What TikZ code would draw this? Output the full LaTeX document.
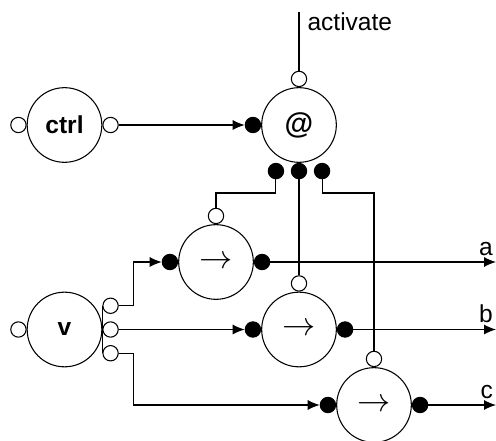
\documentclass[tikz,border=0pt]{standalone}
\usepackage{fontspec}
\setmainfont{Liberation Sans}
\usetikzlibrary{arrows.meta,positioning}

\begin{document}
\begin{tikzpicture}[x=0.75pt,y=-0.75pt,line width=0.8pt]
            \tikzstyle{every node}+=[inner sep=0pt]
            \tikzstyle{unit}=[draw,circle,minimum size=56pt,font=\fontsize{18.4}{22}\selectfont]
            \tikzstyle{oport}=[draw,circle,fill=white,minimum size=11.5pt]
            \tikzstyle{iport}=[draw,circle,fill=black,minimum size=11.5pt]
            \tikzstyle{lbl}=[font=\fontsize{18.4}{22}\selectfont]
            \tikzstyle{tip}=[-{Latex[length=9pt,width=7.5pt]}]
            \useasboundingbox (0,0) rectangle (496,441);
            \node [unit,font=\fontsize{18.4}{22}\selectfont\bfseries] (ctrl) at (64.5,125) {ctrl};
            \node [unit,font=\fontsize{22}{24}\selectfont\bfseries] (app) at (299,125) {@};
            \node [unit,font=\fontsize{24}{26}\selectfont] (fa) at (216,262) {$\rightarrow$};
            \node [unit,font=\fontsize{24}{26}\selectfont] (fb) at (299,329.5) {$\rightarrow$};
            \node [unit,font=\fontsize{24}{26}\selectfont] (fc) at (374,405) {$\rightarrow$};
            \node [unit,font=\fontsize{18.4}{22}\selectfont\bfseries] (v) at (64.5,329.5) {v};
            \node [oport,anchor=east] (ctrlin) at (ctrl.west) {};
            \node [oport,anchor=west] (ctrlout) at (ctrl.east) {};
            \node [iport,anchor=east] (appfun) at (app.west) {};
            \node [oport,anchor=south] (appact) at (app.north) {};
            \node [iport,anchor=north] (appb) at (app.south) {};
            \node [iport,left=5pt of appb] (appa) {};
            \node [iport,right=5pt of appb] (appc) {};
            \node [oport,anchor=east] (vin) at (v.west) {};
            \node [oport,anchor=west] (vb) at (v.east) {};
            \node [oport,above=5.5pt of vb] (va) {};
            \node [oport,below=5.5pt of vb] (vc) {};
            \node [iport,anchor=east] (fain) at (fa.west) {};
            \node [iport,anchor=west] (faout) at (fa.east) {};
            \node [oport,anchor=south] (faact) at (fa.north) {};
            \node [iport,anchor=east] (fbin) at (fb.west) {};
            \node [iport,anchor=west] (fbout) at (fb.east) {};
            \node [oport,anchor=south] (fbact) at (fb.north) {};
            \node [iport,anchor=east] (fcin) at (fc.west) {};
            \node [iport,anchor=west] (fcout) at (fc.east) {};
            \node [oport,anchor=south] (fcact) at (fc.north) {};
            \coordinate (act) at (299,12);
            \coordinate (outa) at (496,262);
            \coordinate (outb) at (496,329.5);
            \coordinate (outc) at (496,405);
            \draw (appact.north) -- (act);
            \node [lbl,anchor=north west] at ([xshift=6pt]act) {activate};
            \draw [tip] (ctrlout.east) -- (appfun.west);
            \draw (appa.south) -- (appa |- 0,193) -| (faact.north);
            \draw (appb.south) -- (fbact.north);
            \draw (appc.south) -- (appc |- 0,193) -| (fcact.north);
            \draw (va.west) -- (vc.west);
            \draw [tip] (va.east) -- ++(15,0) |- (fain.west);
            \draw [tip] (vb.east) -- (fbin.west);
            \draw [tip] (vc.east) -- ++(15,0) |- (fcin.west);
            \draw [tip] (faout.east) -- (outa);
            \draw [tip] (fbout.east) -- (outb);
            \draw [tip] (fcout.east) -- (outc);
            \node [lbl,anchor=base east] at ([xshift=-2pt,yshift=5pt]outa) {a};
            \node [lbl,anchor=base east] at ([xshift=-2pt,yshift=5pt]outb) {b};
            \node [lbl,anchor=base east] at ([xshift=-2pt,yshift=5pt]outc) {c};
\end{tikzpicture}
\end{document}
